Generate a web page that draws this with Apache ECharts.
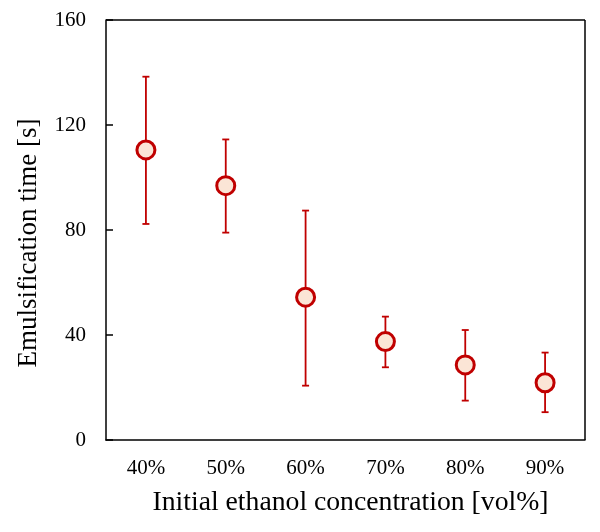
<!DOCTYPE html>
<html><head><meta charset="utf-8">
<script src="https://cdn.jsdelivr.net/npm/echarts@6/dist/echarts.min.js"></script>
<style>html,body{margin:0;padding:0;background:#fff}#c{width:600px;height:532px}</style>
</head><body><div id="c"></div>
<script>
var categories = ['40%', '50%', '60%', '70%', '80%', '90%'];
var meanTime = [110.5, 96.9, 54.4, 37.5, 28.6, 21.8];
var upperTime = [138.4, 114.5, 87.4, 47.0, 41.9, 33.3];
var lowerTime = [82.3, 79.0, 20.7, 27.7, 15.0, 10.6];
var yTicks = [0, 40, 80, 120, 160];

var errData = categories.map(function (c, i) { return [i, lowerTime[i], upperTime[i]]; });
var font = '"Liberation Serif", "Times New Roman", serif';
var chart = echarts.init(document.getElementById('c'));
chart.setOption({
  animation: false,
  grid: { left: 106, right: 15, top: 20, bottom: 92, containLabel: false },
  xAxis: {
    type: 'category', data: categories, boundaryGap: true,
    name: 'Initial ethanol concentration [vol%]', nameLocation: 'middle', nameGap: 49,
    nameTextStyle: { fontFamily: font, fontSize: 27.7, color: '#000', padding: [0, 0, 0, 10] },
    axisLine: { lineStyle: { color: '#000', width: 1.5 } },
    axisTick: { inside: true, alignWithLabel: true, length: 6, lineStyle: { color: '#000', width: 1.5 } },
    axisLabel: { fontFamily: font, fontSize: 21, color: '#000', margin: 18 },
    splitLine: { show: false }
  },
  yAxis: {
    type: 'value', min: yTicks[0], max: yTicks[yTicks.length - 1], interval: 40,
    name: 'Emulsification time [s]', nameLocation: 'middle', nameGap: 64,
    nameTextStyle: { fontFamily: font, fontSize: 27, color: '#000', padding: [0, 0, 0, -26] },
    axisLine: { show: true, lineStyle: { color: '#000', width: 1.5 } },
    axisTick: { show: true, inside: true, length: 7, lineStyle: { color: '#000', width: 1.5 } },
    axisLabel: { fontFamily: font, fontSize: 21, color: '#000', margin: 20 },
    splitLine: { show: false }
  },
  series: [
    {
      type: 'line', xAxisIndex: 0, yAxisIndex: 0, data: [], silent: true,
      markLine: { silent: true, symbol: 'none', label: { show: false },
        lineStyle: { color: '#000', width: 1.5, type: 'solid' },
        data: [ [{ x: 585, y: 20 }, { x: 585, y: 440 }], [{ x: 106, y: 20 }, { x: 585, y: 20 }] ] }
    },
    {
      type: 'custom', data: errData, z: 2,
      renderItem: function (params, api) {
        var x = api.value(0);
        var lo = api.coord([x, api.value(1)]);
        var hi = api.coord([x, api.value(2)]);
        var hw = 3.5;
        var st = { stroke: '#c00000', lineWidth: 1.8 };
        return { type: 'group', children: [
          { type: 'line', shape: { x1: lo[0], y1: lo[1], x2: hi[0], y2: hi[1] }, style: st },
          { type: 'line', shape: { x1: lo[0] - hw, y1: lo[1], x2: lo[0] + hw, y2: lo[1] }, style: st },
          { type: 'line', shape: { x1: hi[0] - hw, y1: hi[1], x2: hi[0] + hw, y2: hi[1] }, style: st }
        ] };
      }
    },
    {
      type: 'scatter', data: meanTime, z: 5, symbol: 'circle', symbolSize: 18,
      itemStyle: { color: '#fbe5d6', borderColor: '#c00000', borderWidth: 3, opacity: 1 }
    }
  ]
});
</script></body></html>
